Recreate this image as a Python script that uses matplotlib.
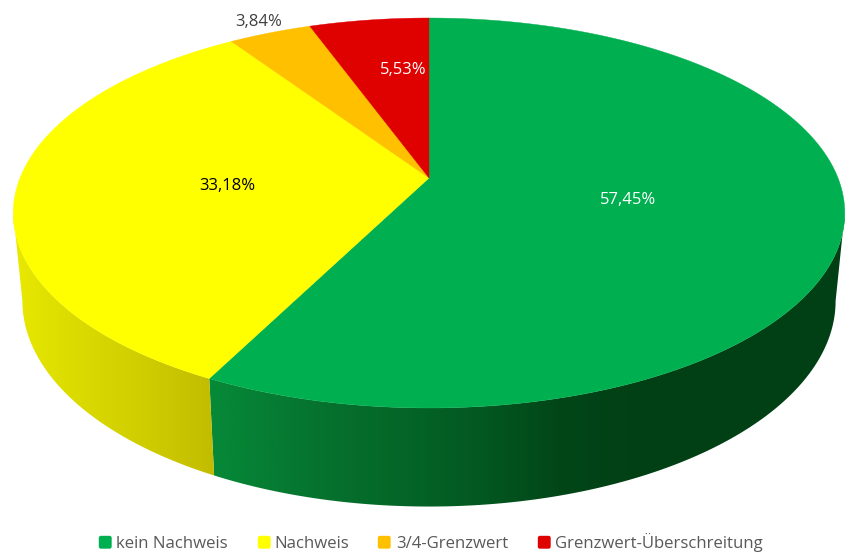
import numpy as np
import matplotlib
matplotlib.use("Agg")
import matplotlib.pyplot as plt
from matplotlib.colors import LinearSegmentedColormap
from matplotlib.patches import FancyBboxPatch, Polygon

# Share of samples per result class, in percent
categories = ["kein Nachweis", "Nachweis", "3/4-Grenzwert", "Grenzwert-Überschreitung"]
shares = [57.45, 33.18, 3.84, 5.53]
top_colors = ["#00B050", "#FFFF00", "#FFC000", "#DF0000"]
label_colors = ["white", "black", "#404040", "white"]

W, H = 847, 554
CX = 429.0
TILT = 0.1795           # perspective strength of the disc
TOP = dict(a=409.0, b=188.7, yc=178.0)
RIM = dict(a=400.0, b=199.0, yc=264.0)

plt.rcParams["font.family"] = ["Open Sans", "DejaVu Sans"]
fig = plt.figure(figsize=(W / 100, H / 100), dpi=100, facecolor="white")
ax = fig.add_axes([0, 0, 1, 1])


def project(frac, plane):
    """Map a pie fraction (clockwise from 12 o'clock) onto a perspective disc."""
    t = 2 * np.pi * np.asarray(frac)
    u, v = np.sin(t), np.cos(t)
    w = 1 + TILT * v
    return np.column_stack([CX + plane["a"] * u / w, plane["yc"] - plane["b"] * v / w])


def side_gradient(stops, clip):
    """Horizontal shading of the cylinder wall, clipped to one slice."""
    x0, x1 = stops[0][0], stops[-1][0]
    pos = [(s[0] - x0) / (x1 - x0) for s in stops]
    cmap = LinearSegmentedColormap.from_list(
        "wall", [(p, np.array(s[1]) / 255) for p, s in zip(pos, stops)], N=256
    )
    img = ax.imshow(
        np.linspace(0, 1, 512)[None, :], cmap=cmap, extent=(x0, x1, H, 0),
        aspect="auto", interpolation="bilinear", zorder=1,
    )
    img.set_clip_path(clip)


green_wall = [(200, (6, 140, 57)), (300, (6, 118, 48)), (400, (4, 102, 40)), (490, (3, 86, 32)),
              (560, (2, 70, 24)), (640, (1, 64, 20)), (847, (1, 64, 20))]
yellow_wall = [(0, (236, 236, 0)), (60, (222, 222, 0)), (130, (210, 208, 0)), (215, (194, 188, 0))]
walls = {0: green_wall, 1: yellow_wall}

edges = np.concatenate([[0], np.cumsum(shares)]) / sum(shares)

# Only the front of the cylinder is visible: between the two silhouette generators
front_start = np.arccos(-TILT) / (2 * np.pi)
front_end = 1 - front_start

for i, stops in walls.items():
    lo = max(edges[i], front_start)
    hi = min(edges[i + 1], front_end)
    fr = np.linspace(lo, hi, 300)
    outline = np.vstack([project(fr, TOP), project(fr[::-1], RIM)])
    poly = Polygon(outline, closed=True, facecolor="none", edgecolor="none", transform=ax.transData)
    ax.add_patch(poly)
    side_gradient(stops, poly)

# Top face slices
apex = np.array([[CX, TOP["yc"]]])
for i, col in enumerate(top_colors):
    fr = np.linspace(edges[i], edges[i + 1], 300)
    pts = np.vstack([apex, project(fr, TOP)])
    ax.add_patch(Polygon(pts, closed=True, facecolor=col, edgecolor=col, linewidth=0.3, zorder=2))

# Value labels
label_xy = [(628, 200.5), (227.5, 186.5), (259, 22.5), (403, 69.5)]
for val, (x, y), col in zip(shares, label_xy, label_colors):
    ax.text(x, y, f"{val:.2f}".replace(".", ",") + "%", color=col, fontsize=12,
            ha="center", va="center", zorder=3)

# Legend row
swatch_x = [99, 258, 378, 538]
text_x = [116, 274, 396, 555]
for name, col, sx, tx in zip(categories, top_colors, swatch_x, text_x):
    ax.add_patch(FancyBboxPatch((sx + 0.5, 536.5), 11.5, 11.5, boxstyle="round,pad=0,rounding_size=1.5",
                                facecolor=col, edgecolor=col, linewidth=1, zorder=3))
    ax.text(tx, 548, name, color="#595959", fontsize=12.05, ha="left", va="baseline", zorder=3)

ax.set_xlim(0, W)
ax.set_ylim(H, 0)
ax.axis("off")
fig.savefig("out.png", dpi=100, facecolor="white")
